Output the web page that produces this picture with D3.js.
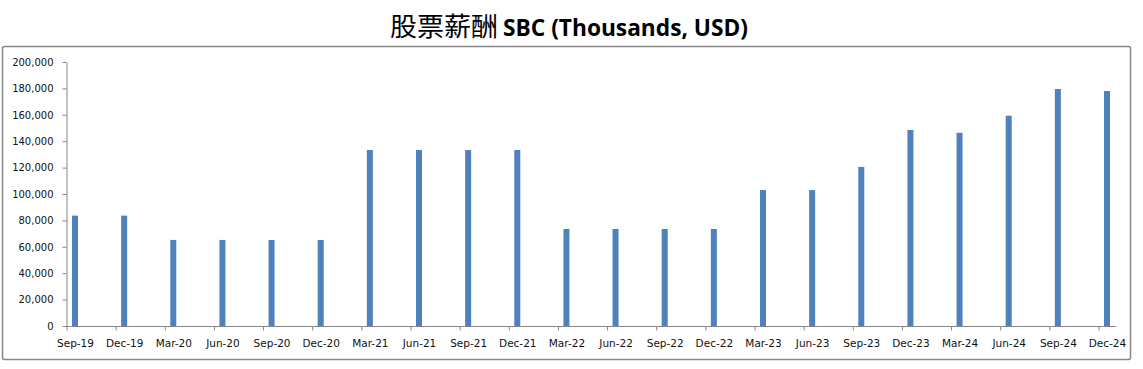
<!DOCTYPE html>
<html>
<head>
<meta charset="utf-8">
<script src="https://cdn.jsdelivr.net/npm/d3@7"></script>
<style>
  body { margin: 0; background: #fff; }
  svg { display: block; }
</style>
</head>
<body>
<script>
// quarters and SBC values (thousands USD)
const quarters = ["Sep-19", "Dec-19", "Mar-20", "Jun-20", "Sep-20", "Dec-20",
    "Mar-21", "Jun-21", "Sep-21", "Dec-21", "Mar-22", "Jun-22", "Sep-22", "Dec-22",
    "Mar-23", "Jun-23", "Sep-23", "Dec-23", "Mar-24", "Jun-24", "Sep-24", "Dec-24"];
const sbc = [83600, 83600, 65200, 65200, 65200, 65200,
    133300, 133300, 133300, 133300, 73500, 73500, 73500, 73500,
    103000, 103000, 120500, 148500, 146400, 159300, 179500, 178000];
const yTicks = [0, 20000, 40000, 60000, 80000, 100000, 120000, 140000, 160000, 180000, 200000];

const width = 1143, height = 369;
const axisColor = "#868686";

const svg = d3.select("body").append("svg")
    .attr("width", width)
    .attr("height", height);

// outer chart border
svg.append("rect")
    .attr("x", 2.5).attr("y", 46.5)
    .attr("width", 1128).attr("height", 313)
    .attr("rx", 2)
    .attr("fill", "#fff")
    .attr("stroke", axisColor)
    .attr("stroke-width", 1.5);

// title
svg.append("text")
    .attr("x", 390).attr("y", 36)
    .attr("font-family", "Noto Sans CJK SC")
    .attr("font-size", 26)
    .attr("textLength", 108)
    .attr("lengthAdjust", "spacingAndGlyphs")
    .attr("fill", "#000")
    .text("股票薪酬");
svg.append("text")
    .attr("x", 503).attr("y", 36)
    .attr("font-family", "'Open Sans', sans-serif")
    .attr("font-weight", "bold")
    .attr("font-size", 24)
    .attr("textLength", 245)
    .attr("lengthAdjust", "spacingAndGlyphs")
    .attr("fill", "#000")
    .text("SBC (Thousands, USD)");

const x = d3.scalePoint()
    .domain(quarters)
    .range([75, 1107]);

const y = d3.scaleLinear()
    .domain([0, 200000])
    .range([326, 62]);

// y axis
const yAxis = svg.append("g")
    .attr("transform", "translate(66.5,0)")
    .call(d3.axisLeft(y).tickValues(yTicks).tickSize(4).tickPadding(9)
        .tickFormat(d3.format(",")).tickSizeOuter(0));
yAxis.select(".domain").attr("stroke", axisColor);
yAxis.selectAll(".tick line").attr("stroke", axisColor);
yAxis.selectAll(".tick text")
    .attr("font-family", "'DejaVu Sans', sans-serif")
    .attr("font-size", 10)
    .attr("fill", "#111");

// bars
svg.append("g")
    .selectAll("rect")
    .data(quarters)
    .join("rect")
    .attr("x", d => x(d) - 3)
    .attr("y", (d, i) => y(sbc[i]))
    .attr("width", 6)
    .attr("height", (d, i) => y(0) - y(sbc[i]))
    .attr("fill", "#4F81BD");

// x axis, tick marks sit a little left of each bar
const xAxis = svg.append("g")
    .attr("transform", "translate(0,326.5)")
    .call(d3.axisBottom(x).tickSize(4).tickPadding(9).tickSizeOuter(0));
xAxis.select(".domain").remove();
xAxis.append("line")
    .attr("x1", 66).attr("x2", 1116)
    .attr("stroke", axisColor);
xAxis.selectAll(".tick line")
    .attr("stroke", axisColor)
    .attr("transform", "translate(-8.5,0)");
xAxis.selectAll(".tick text")
    .attr("font-family", "'DejaVu Sans', sans-serif")
    .attr("font-size", 10.5)
    .attr("fill", "#111");
</script>
</body>
</html>
